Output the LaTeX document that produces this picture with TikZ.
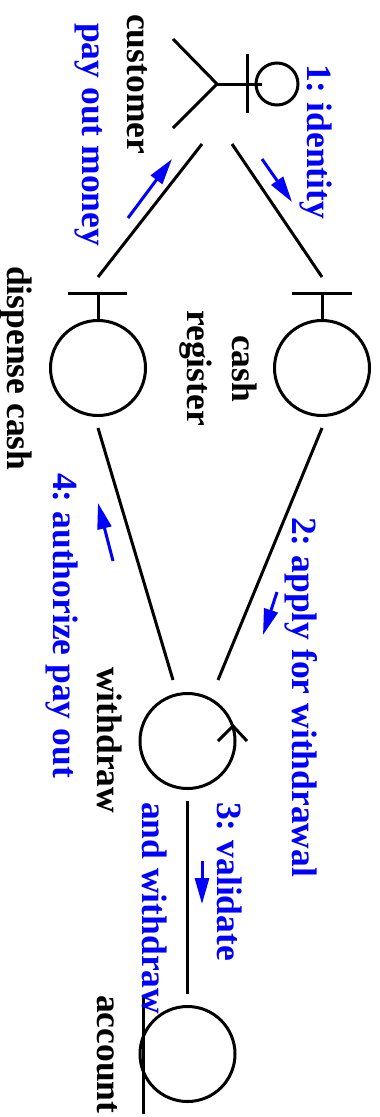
\documentclass[tikz,border=0pt]{standalone}
\usepackage{fontspec}
\setmainfont{Liberation Serif}
\usetikzlibrary{arrows.meta, shapes.geometric}

\begin{document}
\begin{tikzpicture}[
    x=1pt, y=-1pt,
    % object circles and their lines
    objcircle/.style={draw=black, circle, inner sep=0pt, minimum size=95pt, line width=3pt},
    headcircle/.style={draw=black, circle, inner sep=0pt, minimum size=42pt, line width=3pt},
    link/.style={line width=3pt, black},
    msgarr/.style={-{Triangle[length=26pt, width=14pt]}, line width=3pt, blue},
    % labels run down the page
    lbl/.style={font=\fontsize{35.5}{45}\selectfont\bfseries\frenchspacing, text=black, rotate=-90, anchor=base west, inner sep=0pt},
    msglbl/.style={lbl, text=blue}
]
\useasboundingbox (0,0) rectangle (380,1117);

% ===== CUSTOMER =====
\node[headcircle] (head) at (277,84) {};
\coordinate (hip) at (217,84);
\coordinate (neck) at (262,84);
\coordinate (handa) at (247,54);
\coordinate (handb) at (247,113);
\coordinate (foota) at (173,39);
\coordinate (footb) at (173,128);
\draw[link] (hip) -- (neck);
\draw[link] (handa) -- (handb);
\draw[link] (foota) -- (hip) -- (footb);
\node[lbl] (customer) at (127,14) {customer};

% ===== CONTROL AND BOUNDARY OBJECTS =====
\node[objcircle] (dispense) at (98,368) {};
\node[objcircle] (cash) at (322,368) {};
\node[objcircle] (withdraw) at (187.5,741) {};
\node[objcircle] (account) at (187.5,1054) {};

% Bars on top of the circles
\coordinate (dispbara) at (68,293);
\coordinate (dispbarb) at (127,293);
\coordinate (dispstem) at (98,293);
\coordinate (cashbara) at (292,293);
\coordinate (cashbarb) at (352,293);
\coordinate (cashstem) at (322,293);
\draw[link] (dispbara) -- (dispbarb);
\draw[link] (dispstem) -- (dispense.north);
\draw[link] (cashbara) -- (cashbarb);
\draw[link] (cashstem) -- (cash.north);

% Tick on withdraw
\coordinate (ticka) at (218,741);
\coordinate (tickb) at (233,726);
\coordinate (tickc) at (247,741);
\draw[link] (ticka) -- (tickb) -- (tickc);

% Links
\coordinate (la) at (202,144);
\coordinate (lb) at (98,277);
\coordinate (lc) at (232,144);
\coordinate (ld) at (322,277);
\coordinate (le) at (98,428);
\coordinate (lf) at (173,680);
\coordinate (lg) at (322,428);
\coordinate (lh) at (218,680);
\coordinate (li) at (187.5,801);
\coordinate (lj) at (187.5,994);
\draw[link] (la) -- (lb);
\draw[link] (lc) -- (ld);
\draw[link] (le) -- (lf);
\draw[link] (lg) -- (lh);
\draw[link] (li) -- (lj);

% Ground line of account
\coordinate (grounda) at (143,995);
\coordinate (groundb) at (143,1114);
\draw[link] (grounda) -- (groundb);

% ===== MESSAGE ARROWS =====
\coordinate (ma) at (128,218);
\coordinate (mb) at (172,159);
\coordinate (mc) at (262,159);
\coordinate (md) at (292,202);
\coordinate (me) at (277,592);
\coordinate (mf) at (263,635);
\coordinate (mg) at (113,561);
\coordinate (mh) at (98,503);
\coordinate (mi) at (202,861);
\coordinate (mj) at (202,904);
\draw[msgarr] (ma) -- (mb);
\draw[msgarr] (mc) -- (md);
\draw[msgarr] (me) -- (mf);
\draw[msgarr] (mg) -- (mh);
\draw[msgarr] (mi) -- (mj);

% ===== LABELS =====
\node[lbl] (dispenselbl) at (8,266) {dispense cash};
\node[lbl] (cashlbl) at (232,335) {cash};
\node[lbl] (registerlbl) at (187,310) {register};
\node[lbl] (withdrawlbl) at (97,667) {withdraw};
\node[lbl] (accountlbl) at (97,995) {account};
\node[msglbl] (identity) at (307,64) {1: identity};
\node[msglbl] (payout) at (82,23) {pay out money};
\node[msglbl] (apply) at (292,517) {2: apply for withdrawal};
\node[msglbl] (validate) at (217,802) {3: validate};
\node[msglbl] (andwithdraw) at (142,802) {and withdraw};
\node[msglbl] (authorize) at (53,473) {4: authorize pay out};

\end{tikzpicture}
\end{document}
